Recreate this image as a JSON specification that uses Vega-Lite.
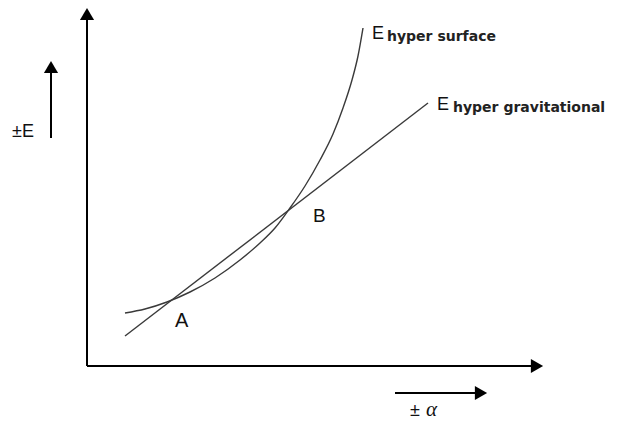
{
  "$schema": "https://vega.github.io/schema/vega-lite/v6.json",
  "width": 619,
  "height": 422,
  "autosize": "none",
  "padding": 0,
  "background": "white",
  "config": {"view": {"stroke": null}},
  "datasets": {
    "rules": [
      {"name": "E axis", "a": 0, "e": 0, "a2": 0, "e2": 352},
      {"name": "alpha axis", "a": 0, "e": 0, "a2": 450, "e2": 0},
      {"name": "E arrow", "a": -36, "e": 228, "a2": -36, "e2": 299},
      {"name": "alpha arrow", "a": 308, "e": -27, "a2": 394, "e2": -27}
    ],
    "heads": [
      {"name": "E axis", "a": 0, "e": 352, "shape": "triangle-up"},
      {"name": "alpha axis", "a": 450, "e": 0, "shape": "triangle-right"},
      {"name": "E arrow", "a": -36, "e": 299, "shape": "triangle-up"},
      {"name": "alpha arrow", "a": 394, "e": -27, "shape": "triangle-right"}
    ],
    "curves": [
      {"series": "gravitational", "a": 38, "e": 30},
      {"series": "gravitational", "a": 341, "e": 263},
      {"series": "surface", "a": 38, "e": 53},
      {"series": "surface", "a": 58, "e": 57},
      {"series": "surface", "a": 80, "e": 64},
      {"series": "surface", "a": 103, "e": 74},
      {"series": "surface", "a": 128, "e": 88},
      {"series": "surface", "a": 153, "e": 106},
      {"series": "surface", "a": 173, "e": 123},
      {"series": "surface", "a": 188, "e": 138},
      {"series": "surface", "a": 203, "e": 158},
      {"series": "surface", "a": 218, "e": 180},
      {"series": "surface", "a": 233, "e": 206},
      {"series": "surface", "a": 246, "e": 232},
      {"series": "surface", "a": 256, "e": 258},
      {"series": "surface", "a": 265, "e": 286},
      {"series": "surface", "a": 271, "e": 310},
      {"series": "surface", "a": 276, "e": 338}
    ],
    "labels": [
      {"a": -75, "e": 229, "text": "±E", "size": 18},
      {"a": 88, "e": 39, "text": "A", "size": 20},
      {"a": 226, "e": 144, "text": "B", "size": 19},
      {"a": 285, "e": 327, "text": "E", "size": 18},
      {"a": 350, "e": 256, "text": "E", "size": 18},
      {"a": 323, "e": -50, "text": "±", "size": 18}
    ],
    "subs": [
      {"a": 300, "e": 325, "text": "hyper surface"},
      {"a": 366, "e": 254, "text": "hyper gravitational"}
    ],
    "greek": [
      {"a": 339, "e": -50, "text": "α"}
    ]
  },
  "layer": [
    {
      "data": {"name": "rules"},
      "mark": {"type": "rule", "color": "#000000", "strokeWidth": 2},
      "encoding": {
        "x": {"field": "a", "type": "quantitative", "scale": {"domain": [-87, 532], "nice": false, "zero": false}, "axis": null},
        "y": {"field": "e", "type": "quantitative", "scale": {"domain": [-56, 366], "nice": false, "zero": false}, "axis": null},
        "x2": {"field": "a2"},
        "y2": {"field": "e2"}
      }
    },
    {
      "data": {"name": "heads"},
      "mark": {"type": "point", "filled": true, "color": "#000000", "opacity": 1, "size": 200},
      "encoding": {
        "x": {"field": "a", "type": "quantitative"},
        "y": {"field": "e", "type": "quantitative"},
        "shape": {"field": "shape", "type": "nominal", "scale": null}
      }
    },
    {
      "data": {"name": "curves"},
      "mark": {"type": "line", "color": "#3a3a3a", "strokeWidth": 1.4, "interpolate": "monotone"},
      "encoding": {
        "x": {"field": "a", "type": "quantitative"},
        "y": {"field": "e", "type": "quantitative"},
        "detail": {"field": "series", "type": "nominal"}
      }
    },
    {
      "data": {"name": "labels"},
      "mark": {"type": "text", "align": "left", "baseline": "alphabetic", "font": "Liberation Sans", "color": "#111111"},
      "encoding": {
        "x": {"field": "a", "type": "quantitative"},
        "y": {"field": "e", "type": "quantitative"},
        "text": {"field": "text", "type": "nominal"},
        "size": {"field": "size", "type": "quantitative", "scale": null}
      }
    },
    {
      "data": {"name": "subs"},
      "mark": {"type": "text", "align": "left", "baseline": "alphabetic", "font": "DejaVu Sans", "fontWeight": "bold", "fontSize": 14, "color": "#222222"},
      "encoding": {
        "x": {"field": "a", "type": "quantitative"},
        "y": {"field": "e", "type": "quantitative"},
        "text": {"field": "text", "type": "nominal"}
      }
    },
    {
      "data": {"name": "greek"},
      "mark": {"type": "text", "align": "left", "baseline": "alphabetic", "font": "Liberation Serif", "fontStyle": "italic", "fontSize": 21, "color": "#111111"},
      "encoding": {
        "x": {"field": "a", "type": "quantitative"},
        "y": {"field": "e", "type": "quantitative"},
        "text": {"field": "text", "type": "nominal"}
      }
    }
  ]
}
